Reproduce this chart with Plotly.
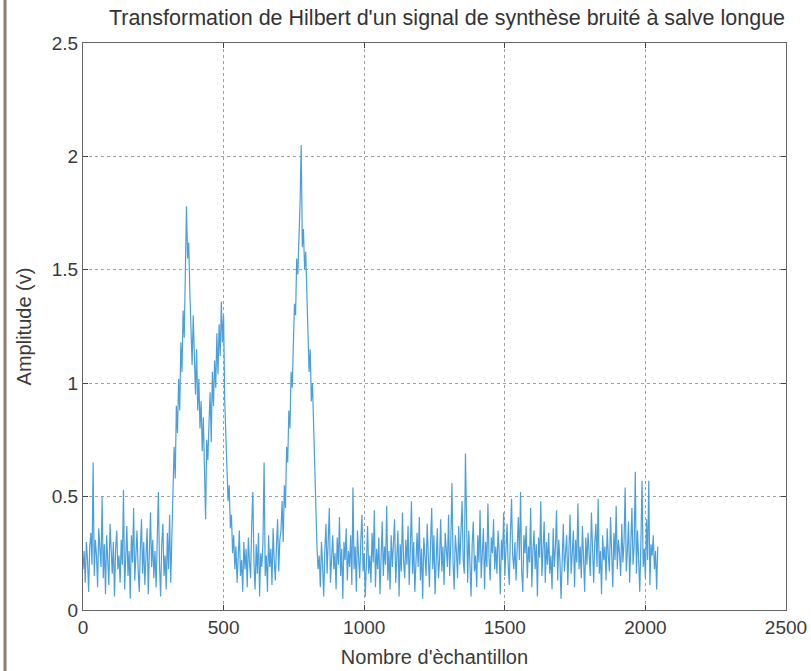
import numpy as np
import plotly.graph_objects as go

# ---- data (one value every 4 samples) ----
sample_step = 4

noise_start = [  # samples 0..316
    0.18, 0.26, 0.12, 0.30, 0.22, 0.08, 0.28, 0.34, 0.20, 0.65, 0.15, 0.31, 0.24, 0.10, 0.36, 0.27,
    0.19, 0.50, 0.14, 0.29, 0.07, 0.33, 0.22, 0.11, 0.38, 0.25, 0.16, 0.30, 0.06, 0.27, 0.35, 0.18,
    0.24, 0.12, 0.31, 0.20, 0.53, 0.09, 0.28, 0.37, 0.15, 0.26, 0.05, 0.33, 0.21, 0.45, 0.13, 0.29,
    0.35, 0.18, 0.08, 0.27, 0.40, 0.16, 0.30, 0.11, 0.24, 0.36, 0.07, 0.22, 0.43, 0.19, 0.31, 0.14,
    0.26, 0.10, 0.33, 0.52, 0.20, 0.06, 0.29, 0.38, 0.15, 0.24, 0.09, 0.34, 0.18, 0.42, 0.12, 0.30,
]
burst_1 = [  # samples 320..508
    0.45, 0.72, 0.58, 0.90, 0.78, 1.02, 0.88, 1.18, 1.05, 1.32, 1.20, 1.48, 1.78, 1.55, 1.62, 1.40,
    1.25, 1.08, 1.30, 1.12, 0.95, 1.15, 0.88, 1.02, 0.80, 0.92, 0.70, 0.85, 0.62, 0.40, 0.75, 0.66,
    0.82, 0.96, 0.74, 1.05, 0.90, 1.10, 0.98, 1.22, 1.04, 1.26, 1.12, 1.36, 1.18, 1.30, 0.92, 0.80,
]
noise_between = [  # samples 512..700
    0.62, 0.48, 0.55, 0.36, 0.42, 0.25, 0.33, 0.18, 0.28, 0.12, 0.24, 0.35, 0.15, 0.22, 0.08, 0.30,
    0.18, 0.27, 0.10, 0.32, 0.21, 0.14, 0.38, 0.52, 0.20, 0.09, 0.29, 0.16, 0.34, 0.06, 0.25, 0.19,
    0.30, 0.65, 0.15, 0.24, 0.08, 0.33, 0.19, 0.27, 0.11, 0.36, 0.22, 0.13, 0.28, 0.40, 0.17, 0.31,
]
burst_2 = [  # samples 704..828
    0.35, 0.48, 0.30, 0.55, 0.45, 0.72, 0.65, 0.88, 0.80, 1.05, 0.98, 1.25, 1.35, 1.30, 1.55, 1.48,
    1.62, 1.80, 2.05, 1.60, 1.68, 1.50, 1.58, 1.40, 1.22, 1.05, 1.15, 0.92, 1.00, 0.80, 0.62, 0.35,
]
noise_tail = [  # samples 832..2044
    0.28, 0.18, 0.24, 0.10, 0.30, 0.20, 0.06, 0.26, 0.38, 0.16, 0.29, 0.45, 0.12, 0.22, 0.33, 0.18,
    0.25, 0.09, 0.32, 0.20, 0.41, 0.15, 0.27, 0.05, 0.30, 0.22, 0.36, 0.13, 0.26, 0.19, 0.33, 0.11,
    0.54, 0.18, 0.28, 0.08, 0.35, 0.23, 0.14, 0.31, 0.42, 0.17, 0.25, 0.06, 0.29, 0.37, 0.16, 0.24,
    0.12, 0.34, 0.21, 0.44, 0.10, 0.27, 0.18, 0.32, 0.07, 0.25, 0.39, 0.15, 0.28, 0.20, 0.46, 0.13,
    0.26, 0.09, 0.33, 0.19, 0.28, 0.40, 0.12, 0.24, 0.35, 0.06, 0.29, 0.17, 0.43, 0.22, 0.14, 0.31,
    0.20, 0.37, 0.11, 0.26, 0.48, 0.16, 0.30, 0.08, 0.23, 0.34, 0.19, 0.41, 0.13, 0.27, 0.05, 0.32,
    0.24, 0.15, 0.38, 0.21, 0.10, 0.29, 0.45, 0.18, 0.33, 0.07, 0.26, 0.36, 0.14, 0.22, 0.40, 0.17,
    0.28, 0.11, 0.34, 0.25, 0.19, 0.42, 0.15, 0.30, 0.56, 0.21, 0.09, 0.33, 0.26, 0.14, 0.37, 0.20,
    0.31, 0.48, 0.22, 0.16, 0.69, 0.27, 0.12, 0.35, 0.20, 0.06, 0.29, 0.39, 0.17, 0.24, 0.10, 0.33,
    0.21, 0.44, 0.14, 0.27, 0.36, 0.09, 0.30, 0.19, 0.47, 0.23, 0.13, 0.32, 0.25, 0.40, 0.18, 0.28,
    0.16, 0.35, 0.26, 0.07, 0.31, 0.22, 0.43, 0.15, 0.29, 0.38, 0.20, 0.11, 0.34, 0.49, 0.24, 0.18,
    0.30, 0.13, 0.27, 0.41, 0.22, 0.52, 0.17, 0.08, 0.33, 0.25, 0.37, 0.14, 0.28, 0.21, 0.45, 0.10,
    0.26, 0.35, 0.18, 0.29, 0.06, 0.32, 0.23, 0.48, 0.15, 0.27, 0.39, 0.12, 0.30, 0.20, 0.34, 0.16,
    0.24, 0.09, 0.36, 0.19, 0.28, 0.44, 0.13, 0.31, 0.22, 0.05, 0.27, 0.38, 0.17, 0.25, 0.33, 0.11,
    0.29, 0.42, 0.16, 0.26, 0.35, 0.10, 0.31, 0.21, 0.47, 0.18, 0.28, 0.14, 0.37, 0.23, 0.08, 0.32,
    0.20, 0.34, 0.25, 0.15, 0.43, 0.27, 0.12, 0.30, 0.38, 0.19, 0.49, 0.16, 0.26, 0.07, 0.33, 0.22,
    0.28, 0.13, 0.36, 0.24, 0.17, 0.41, 0.29, 0.10, 0.34, 0.22, 0.46, 0.18, 0.31, 0.25, 0.15, 0.38,
    0.21, 0.30, 0.54, 0.17, 0.26, 0.39, 0.12, 0.33, 0.45, 0.20, 0.28, 0.61, 0.16, 0.35, 0.23, 0.08,
    0.30, 0.57, 0.19, 0.27, 0.14, 0.40, 0.22, 0.57, 0.11, 0.29, 0.24, 0.33, 0.18, 0.26, 0.09, 0.28,
]

x_tick_values = [0, 500, 1000, 1500, 2000, 2500]
x_tick_labels = ["0", "500", "1000", "1500", "2000", "2500"]
y_tick_values = [0, 0.5, 1, 1.5, 2, 2.5]
y_tick_labels = ["0", "0.5", "1", "1.5", "2", "2.5"]

amplitude = noise_start + burst_1 + noise_between + burst_2 + noise_tail
samples = np.arange(len(amplitude)) * sample_step

FONT = "Liberation Sans, Arial, sans-serif"

fig = go.Figure()
fig.add_trace(go.Scatter(
    x=samples, y=amplitude, mode="lines",
    line=dict(color="#4a9fdc", width=1.2),
    showlegend=False, hoverinfo="skip",
))

axis_common = dict(
    showline=True, linecolor="#666666", linewidth=1, mirror="ticks",
    ticks="inside", ticklen=5, tickcolor="#444444",
    showgrid=True, gridcolor="#a0a0a0", griddash="dot", gridwidth=1,
    zeroline=False, automargin=False,
    tickfont=dict(family=FONT, size=19, color="#3a3a3a"),
)

fig.update_layout(
    width=811, height=671,
    margin=dict(l=83, r=25, t=43, b=61),
    paper_bgcolor="white", plot_bgcolor="white",
    title=dict(
        text="Transformation de Hilbert d'un signal de synthèse bruité à salve longue",
        font=dict(family=FONT, size=21.5, color="#333333"),
        x=447 / 811, xref="container", xanchor="center",
        y=1 - 17 / 671, yref="container", yanchor="middle",
    ),
    xaxis=dict(
        range=[0, 2500], tickvals=x_tick_values, ticktext=x_tick_labels,
        title=dict(text="Nombre d'èchantillon",
                   font=dict(family=FONT, size=20, color="#3a3a3a"), standoff=13),
        **axis_common,
    ),
    yaxis=dict(
        range=[0, 2.5], tickvals=y_tick_values, ticktext=y_tick_labels,
        title=dict(text="Amplitude (v)",
                   font=dict(family=FONT, size=20, color="#3a3a3a"), standoff=14),
        **axis_common,
    ),
)

# scanned page border on the left
fig.add_shape(type="line", xref="paper", yref="paper",
              x0=-78 / 703, x1=-78 / 703, y0=-61 / 567, y1=610 / 567,
              line=dict(color="#8c7a72", width=3))

fig.write_html("out.html")
